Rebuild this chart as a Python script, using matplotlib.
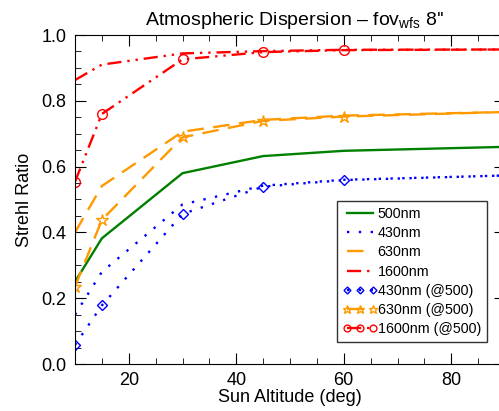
import numpy as np
import matplotlib
matplotlib.use('Agg')
import matplotlib.pyplot as plt

plt.rcParams['font.family'] = ['Liberation Sans', 'DejaVu Sans']
plt.rcParams['mathtext.fontset'] = 'custom'
plt.rcParams['mathtext.rm'] = 'Liberation Sans'
plt.rcParams['mathtext.it'] = 'Liberation Sans'

# Sun altitude (deg)
altitude = [10, 15, 30, 45, 60, 90]

# Strehl ratios
sr_500 = [0.25, 0.382, 0.58, 0.632, 0.648, 0.66]
sr_430 = [0.15, 0.28, 0.485, 0.542, 0.56, 0.573]
sr_630 = [0.40, 0.541, 0.706, 0.742, 0.755, 0.766]
sr_1600 = [0.863, 0.91, 0.944, 0.951, 0.955, 0.956]
sr_430_at500 = [0.058, 0.178, 0.456, 0.539, 0.559, 0.573]
sr_630_at500 = [0.235, 0.438, 0.689, 0.739, 0.752, 0.766]
sr_1600_at500 = [0.554, 0.76, 0.926, 0.948, 0.954, 0.956]

orange = '#ff9900'
dot = (0, (1, 4))
dash = (0, (7, 4))
dash3dot = (0, (6, 2.5, 1, 2.5, 1, 2.5))

fig = plt.figure(figsize=(4.99, 4.11), dpi=100)
ax = fig.add_axes([75 / 499, 47 / 411, 430 / 499, 329 / 411])

ax.plot(altitude, sr_500, color='green', lw=1.7, label='500nm')
ax.plot(altitude, sr_430, color='blue', lw=1.7, ls=dot, label='430nm')
ax.plot(altitude, sr_630, color=orange, lw=1.7, ls=dash, label='630nm')
ax.plot(altitude, sr_1600, color='red', lw=1.7, ls=dash3dot, label='1600nm')
ax.plot(altitude, sr_430_at500, color='blue', lw=1.7, ls=dot, marker='D', ms=5,
        mfc='none', mec='blue', label='430nm (@500)')
ax.plot(altitude, sr_630_at500, color=orange, lw=1.7, ls=dash, marker='*', ms=9,
        mfc='none', mec=orange, label='630nm (@500)')
ax.plot(altitude, sr_1600_at500, color='red', lw=1.7, ls=dash3dot, marker='o', ms=7,
        mfc='none', mec='red', label='1600nm (@500)')

ax.set_xlim(10, 90)
ax.set_ylim(0, 1)
ax.set_xticks([20, 40, 60, 80])
ax.set_xticks(np.arange(10, 91, 5), minor=True)
ax.set_yticks(np.arange(0, 1.01, 0.2))
ax.set_yticks(np.arange(0, 1.01, 0.05), minor=True)
ax.yaxis.set_major_formatter(matplotlib.ticker.FormatStrFormatter('%.1f'))
ax.tick_params(which='both', direction='in', top=True, right=True, labelsize=13, pad=6)
ax.tick_params(which='major', length=8)
ax.tick_params(which='minor', length=4)

ax.set_title("Atmospheric Dispersion \u2013 fov$_{wfs}$ 8''", fontsize=14, pad=7, x=0.51)
ax.set_xlabel('Sun Altitude (deg)', fontsize=13, labelpad=0)
ax.set_ylabel('Strehl Ratio', fontsize=13, labelpad=6)

leg = ax.legend(loc='lower right', fontsize=10.3, numpoints=3, markerscale=0.7, frameon=True,
                fancybox=False, edgecolor='black', handlelength=2.4, handletextpad=0.05,
                borderpad=0.4, labelspacing=0.36, borderaxespad=0)
leg.get_frame().set_linewidth(1.0)
leg.set_bbox_to_anchor((486.7 / 499, (411 - 341.7) / 411), transform=fig.transFigure)

fig.savefig('out.png', dpi=100)
